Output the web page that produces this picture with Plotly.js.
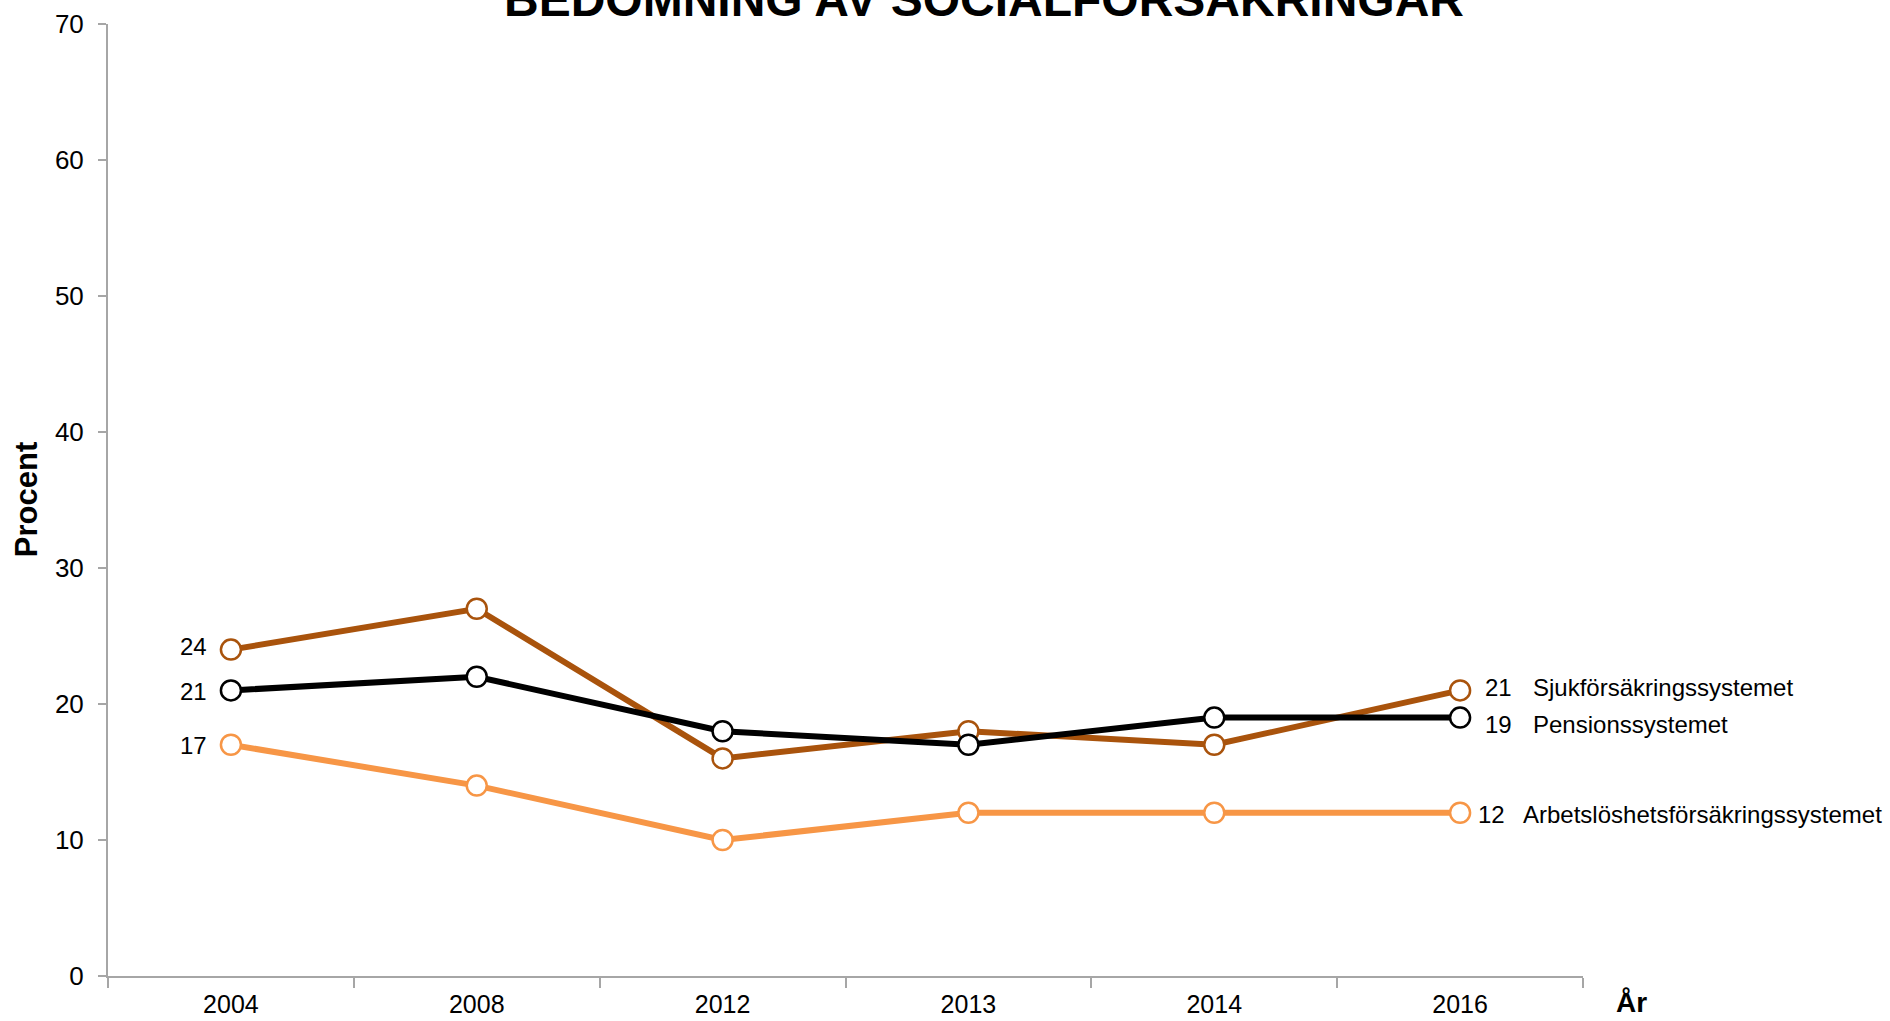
<!DOCTYPE html>
<html>
<head>
<meta charset="utf-8">
<script src="https://cdn.plot.ly/plotly-3.0.1.min.js"></script>
<style>html,body{margin:0;padding:0;background:#fff;}#chart{width:1890px;height:1021px;}</style>
</head>
<body>
<div id="chart"></div>
<script>
// ---- data ----
const years = ['2004', '2008', '2012', '2013', '2014', '2016'];
const seriesNames = ['Sjukförsäkringssystemet', 'Pensionssystemet', 'Arbetslöshetsförsäkringssystemet'];
const sjuk = [24, 27, 16, 18, 17, 21];
const pension = [21, 22, 18, 17, 19, 19];
const arbetsloshet = [17, 14, 10, 12, 12, 12];
const chartTitle = 'BEDÖMNING AV SOCIALFÖRSÄKRINGAR';
const yTitle = 'Procent';
const xTitle = 'År';

// ---- style ----
const FONT = 'Arial, "Liberation Sans", sans-serif';
const colors = ['#A9530C', '#000000', '#F79646'];
const seriesValues = [sjuk, pension, arbetsloshet];
// right-end label offsets (px) per series: [number xshift, name xshift, yshift]
const endLabelOffsets = [[23, 71, 3], [23, 71, -7], [16, 61, -2]];
// left start label vertical offsets (px) per series
const startLabelYShift = [3, -1, -1];

const traces = seriesValues.map((vals, i) => ({
  type: 'scatter',
  mode: 'lines+markers',
  x: years,
  y: vals,
  name: seriesNames[i],
  line: {color: colors[i], width: 6},
  marker: {size: 20, color: '#ffffff', line: {color: colors[i], width: 2.5}},
  hoverinfo: 'x+y+name'
}));
const ordered = [traces[2], traces[0], traces[1]];

const annotations = [];
const first = 0;
const last = years.length - 1;
seriesValues.forEach((vals, i) => {
  annotations.push({
    x: first, y: vals[first], xref: 'x', yref: 'y',
    text: String(vals[first]), showarrow: false,
    xanchor: 'right', yanchor: 'middle', xshift: -22, yshift: startLabelYShift[i],
    font: {family: FONT, size: 24, color: '#000'}
  });
  annotations.push({
    x: last, y: vals[last], xref: 'x', yref: 'y',
    text: String(vals[last]), showarrow: false,
    xanchor: 'left', yanchor: 'middle', xshift: endLabelOffsets[i][0], yshift: endLabelOffsets[i][2],
    font: {family: FONT, size: 24, color: '#000'}
  });
  annotations.push({
    x: last, y: vals[last], xref: 'x', yref: 'y',
    text: seriesNames[i], showarrow: false,
    xanchor: 'left', yanchor: 'middle', xshift: endLabelOffsets[i][1], yshift: endLabelOffsets[i][2],
    font: {family: FONT, size: 24, color: '#000'}
  });
});
// chart title (partly cut off at the top, as in the reference)
annotations.push({
  xref: 'paper', yref: 'paper', x: 0.5939, y: 1.026,
  text: '<b>' + chartTitle + '</b>', showarrow: false,
  xanchor: 'center', yanchor: 'middle',
  font: {family: FONT, size: 48, color: '#000'}
});
// x axis title at right end
annotations.push({
  xref: 'paper', yref: 'paper', x: 1.021, y: -0.028,
  text: '<b>' + xTitle + '</b>', showarrow: false,
  xanchor: 'left', yanchor: 'middle',
  font: {family: FONT, size: 28, color: '#000'}
});
// y axis title
annotations.push({
  xref: 'paper', yref: 'paper', x: -0.0555, y: 0.5,
  text: '<b>' + yTitle + '</b>', showarrow: false, textangle: -90,
  xanchor: 'center', yanchor: 'middle',
  font: {family: FONT, size: 31, color: '#000'}
});

const layout = {
  width: 1890, height: 1021,
  margin: {l: 108, r: 307, t: 24, b: 45, pad: 0},
  paper_bgcolor: '#ffffff', plot_bgcolor: '#ffffff',
  showlegend: false,
  font: {family: FONT, color: '#000'},
  xaxis: {
    type: 'category', categoryorder: 'array', categoryarray: years,
    range: [-0.5, 5.5], tickson: 'boundaries',
    showline: true, linecolor: '#A6A6A6', linewidth: 2,
    ticks: 'outside', ticklen: 10, tickwidth: 1.5, tickcolor: '#A6A6A6',
    showgrid: false, zeroline: false,
    tickfont: {family: FONT, size: 25, color: '#000'},
    ticklabelstandoff: 5
  },
  yaxis: {
    range: [0, 70], dtick: 10, tick0: 0,
    showline: true, linecolor: '#A6A6A6', linewidth: 2,
    ticks: 'outside', ticklen: 8, tickwidth: 1.5, tickcolor: '#A6A6A6',
    showgrid: false, zeroline: false,
    tickfont: {family: FONT, size: 26, color: '#000'},
    ticklabelstandoff: 9
  },
  annotations: annotations
};

Plotly.newPlot('chart', ordered, layout, {displayModeBar: false, responsive: false});
</script>
</body>
</html>
